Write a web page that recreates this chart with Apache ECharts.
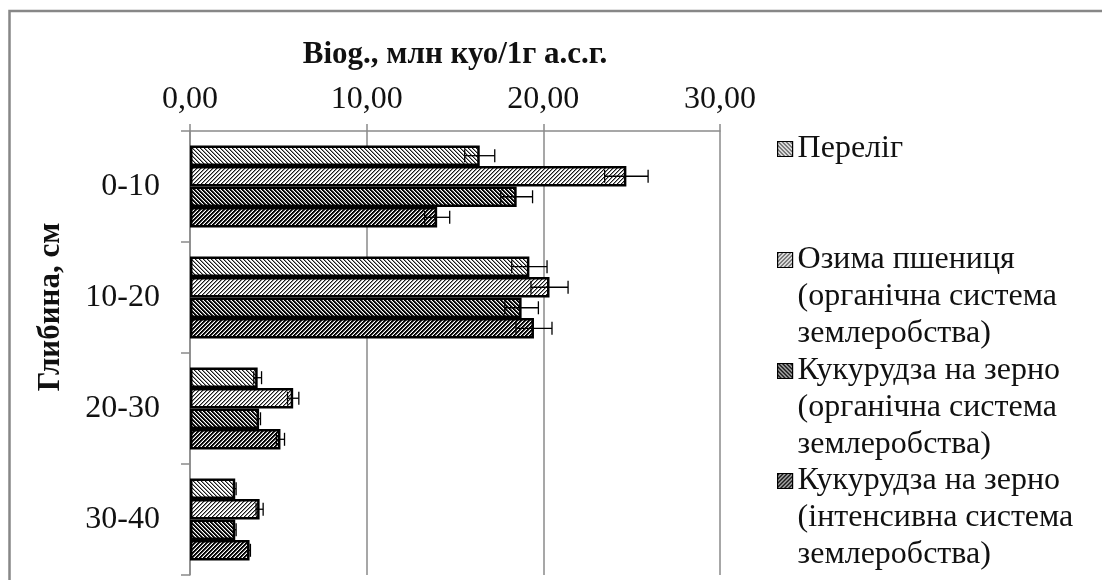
<!DOCTYPE html>
<html>
<head>
<meta charset="utf-8">
<style>
  html, body { margin: 0; padding: 0; background: #fff; }
  #chart { width: 1102px; height: 580px; }
</style>
<script src="https://cdn.jsdelivr.net/npm/echarts@6/dist/echarts.min.js"></script>
</head>
<body>
<div id="chart"></div>
<script>
// Depth layers (cm)
const depths = ['0-10', '10-20', '20-30', '30-40'];

// Series names
const seriesNames = [
  'Переліг',
  'Озима пшениця\n(органічна система\nземлеробства)',
  'Кукурудза на зерно\n(органічна система\nземлеробства)',
  'Кукурудза на зерно\n(інтенсивна система\nземлеробства)'
];

// Biog., млн куо/1г а.с.г. per depth
const fallow      = [16.40, 19.21, 3.83, 2.56];
const wheatOrg    = [24.70, 20.35, 5.84, 3.94];
const cornOrg     = [18.49, 18.77, 3.91, 2.56];
const cornInt     = [13.99, 19.47, 5.12, 3.37];

// Error margins (±)
const fallowErr   = [0.85, 1.00, 0.22, 0.05];
const wheatOrgErr = [1.23, 1.05, 0.32, 0.20];
const cornOrgErr  = [0.90, 0.95, 0.08, 0.05];
const cornIntErr  = [0.71, 1.02, 0.23, 0.05];

// Value axis ticks
const xTicks = [0, 10, 20, 30];

const values = [fallow, wheatOrg, cornOrg, cornInt];
const errors = [fallowErr, wheatOrgErr, cornOrgErr, cornIntErr];

const CATEGORY_GAP = 0.26;
const FONT = 'Liberation Serif';
const LINE_H = 37;

// Diagonal hatch fill: dir '/' or '\\', dark = heavier strokes
function hatch(dir, dark) {
  const s = 4;
  const c = document.createElement('canvas');
  c.width = s; c.height = s;
  const ctx = c.getContext('2d');
  const img = ctx.createImageData(s, s);
  const shades = dark ? [0, 10, 120, 255] : [25, 150, 255, 255];
  for (let y = 0; y < s; y++) {
    for (let x = 0; x < s; x++) {
      const k = dir === '/' ? (x + y) % s : (((x - y) % s) + s) % s;
      const v = shades[k];
      const i = (y * s + x) * 4;
      img.data[i] = v; img.data[i + 1] = v; img.data[i + 2] = v; img.data[i + 3] = 255;
    }
  }
  ctx.putImageData(img, 0, 0);
  return { image: c, repeat: 'repeat' };
}

const fills = [hatch('\\', false), hatch('/', false), hatch('\\', true), hatch('/', true)];

const barSeries = seriesNames.map((name, i) => ({
  name: name,
  type: 'bar',
  data: values[i],
  barGap: '0%',
  barCategoryGap: (CATEGORY_GAP * 100) + '%',
  itemStyle: { color: fills[i], borderColor: '#000', borderWidth: 2.5 },
  z: 2
}));

// Error bar rows: [depth index, series index, value, error]
const errRows = [];
values.forEach((arr, si) => arr.forEach((v, ci) => errRows.push([ci, si, v, errors[si][ci]])));

const errorSeries = {
  type: 'custom',
  name: 'err',
  data: errRows,
  encode: { x: 2, y: 0 },
  z: 5,
  silent: true,
  renderItem: function (params, api) {
    const ci = api.value(0), si = api.value(1), v = api.value(2), e = api.value(3);
    const center = api.coord([v, ci]);
    const band = api.size([0, 1])[1];
    const used = band * (1 - CATEGORY_GAP);
    const barW = used / seriesNames.length;
    const y = center[1] - used / 2 + (si + 0.5) * barW;
    const x1 = api.coord([v - e, ci])[0];
    const x2 = api.coord([v + e, ci])[0];
    const h = 6.5;
    const st = { stroke: '#000', lineWidth: 1.3 };
    return {
      type: 'group',
      children: [
        { type: 'line', shape: { x1: x1, y1: y, x2: x2, y2: y }, style: st },
        { type: 'line', shape: { x1: x1, y1: y - h, x2: x1, y2: y + h }, style: st },
        { type: 'line', shape: { x1: x2, y1: y - h, x2: x2, y2: y + h }, style: st }
      ]
    };
  }
};

// One legend block per series; multi-line names get leading blank lines
// so that the first text line lines up with the swatch.
const legendCenters = [149, 260, 371, 481];
const legends = seriesNames.map((name, i) => {
  const lines = name.split('\n').length;
  const pad = lines - 1;
  const totalLines = lines + pad;
  return {
    data: [name],
    orient: 'vertical',
    left: 777,
    top: legendCenters[i] - totalLines * LINE_H / 2,
    padding: 0,
    icon: 'rect',
    itemWidth: 15,
    itemHeight: 15,
    selectedMode: false,
    itemStyle: { borderColor: '#000', borderWidth: 1.2 },
    formatter: n => '\n'.repeat(pad) + n,
    textStyle: {
      fontFamily: FONT,
      fontSize: 32,
      lineHeight: LINE_H,
      color: '#111'
    }
  };
});

const chart = echarts.init(document.getElementById('chart'), null, { renderer: 'canvas' });

chart.setOption({
  animation: false,
  backgroundColor: '#fff',
  textStyle: { fontFamily: FONT },
  grid: { left: 190, top: 131, width: 530, height: 444 },
  legend: legends,
  graphic: [{
    type: 'rect',
    shape: { x: 9.5, y: 11, width: 1200, height: 700 },
    style: { fill: 'none', stroke: '#878787', lineWidth: 2.5 },
    silent: true
  }],
  xAxis: {
    type: 'value',
    position: 'top',
    min: xTicks[0],
    max: xTicks[xTicks.length - 1],
    interval: xTicks[1] - xTicks[0],
    name: 'Biog., млн куо/1г а.с.г.',
    nameLocation: 'middle',
    nameGap: 61,
    nameTextStyle: { fontFamily: FONT, fontSize: 31, lineHeight: 31, fontWeight: 'bold', color: '#111' },
    axisLine: { show: true, lineStyle: { color: '#8a8a8a', width: 1.5 } },
    axisTick: { show: true, inside: false, length: 7, lineStyle: { color: '#8a8a8a', width: 1.5 } },
    splitLine: { show: true, lineStyle: { color: '#8a8a8a', width: 1.5 } },
    axisLabel: {
      margin: 15,
      fontFamily: FONT,
      fontSize: 32,
      lineHeight: 32,
      color: '#111',
      formatter: v => v.toFixed(2).replace('.', ',')
    }
  },
  yAxis: {
    type: 'category',
    data: depths,
    inverse: true,
    name: 'Глибина, см',
    nameLocation: 'middle',
    nameGap: 124,
    nameTextStyle: { fontFamily: FONT, fontSize: 31, lineHeight: 31, fontWeight: 'bold', color: '#111', padding: [0, 0, 0, 92] },
    axisLine: { show: true, lineStyle: { color: '#8a8a8a', width: 1.5 } },
    axisTick: { show: true, inside: false, length: 9, lineStyle: { color: '#8a8a8a', width: 1.5 } },
    splitLine: { show: false },
    axisLabel: { margin: 30, fontFamily: FONT, fontSize: 32, color: '#111' }
  },
  series: barSeries.concat([errorSeries])
});
</script>
</body>
</html>
